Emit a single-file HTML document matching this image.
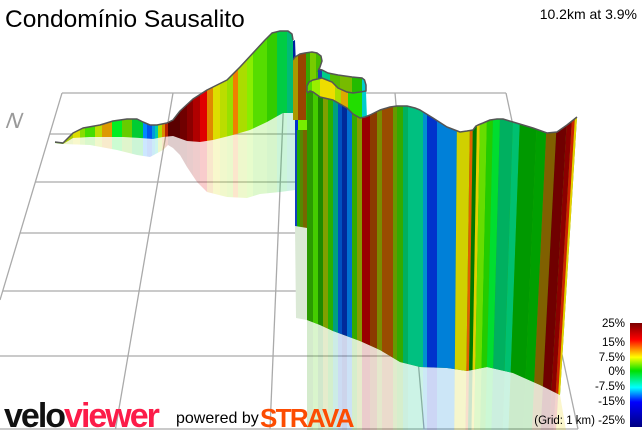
<!DOCTYPE html>
<html><head><meta charset="utf-8"><style>
html,body{margin:0;padding:0;background:#fff;}
svg{display:block;font-family:"Liberation Sans",Arial,sans-serif;}
</style></head><body>
<svg width="642" height="430" viewBox="0 0 642 430" xmlns="http://www.w3.org/2000/svg">
<defs>
<g id="sL">
<rect x="55" y="25" width="8" height="175" fill="#55aa00"/>
<rect x="63" y="25" width="10" height="175" fill="#aacc00"/>
<rect x="73" y="25" width="7" height="175" fill="#dddd00"/>
<rect x="80" y="25" width="5" height="175" fill="#88dd00"/>
<rect x="85" y="25" width="10" height="175" fill="#44dd00"/>
<rect x="95" y="25" width="7" height="175" fill="#bbdd00"/>
<rect x="102" y="25" width="10" height="175" fill="#dd9900"/>
<rect x="112" y="25" width="10" height="175" fill="#00ee22"/>
<rect x="122" y="25" width="10" height="175" fill="#66cc00"/>
<rect x="132" y="25" width="11" height="175" fill="#00cc33"/>
<rect x="143" y="25" width="4" height="175" fill="#0088ff"/>
<rect x="147" y="25" width="5" height="175" fill="#0055ee"/>
<rect x="152" y="25" width="3" height="175" fill="#0099dd"/>
<rect x="155" y="25" width="3" height="175" fill="#00ccaa"/>
<rect x="158" y="25" width="4" height="175" fill="#aadd00"/>
<rect x="162" y="25" width="3" height="175" fill="#dd8800"/>
<rect x="165" y="25" width="3" height="175" fill="#bb2200"/>
<rect x="168" y="25" width="12" height="175" fill="#5a0000"/>
<rect x="180" y="25" width="7" height="175" fill="#700000"/>
<rect x="187" y="25" width="6" height="175" fill="#8b0000"/>
<rect x="193" y="25" width="7" height="175" fill="#b00000"/>
<rect x="200" y="25" width="7" height="175" fill="#e00000"/>
<rect x="207" y="25" width="6" height="175" fill="#e08800"/>
<rect x="213" y="25" width="7" height="175" fill="#dddd00"/>
<rect x="220" y="25" width="7" height="175" fill="#bbdd00"/>
<rect x="227" y="25" width="6" height="175" fill="#99e000"/>
<rect x="233" y="25" width="5" height="175" fill="#f08000"/>
<rect x="238" y="25" width="9" height="175" fill="#aadd00"/>
<rect x="247" y="25" width="6" height="175" fill="#88ee00"/>
<rect x="253" y="25" width="14" height="175" fill="#55dd00"/>
<rect x="267" y="25" width="10" height="175" fill="#33cc00"/>
<rect x="277" y="25" width="10" height="175" fill="#00cc44"/>
<rect x="287" y="25" width="8" height="175" fill="#00bb77"/>
</g>
<g id="sF">
<rect x="305" y="60" width="290" height="370" fill="#33aa00"/>
<rect x="307" y="60" width="6" height="370" fill="#2a9a00"/>
<rect x="313" y="60" width="5" height="370" fill="#44cc00"/>
<rect x="318" y="60" width="5" height="370" fill="#1d8a00"/>
<rect x="323" y="60" width="5" height="370" fill="#7fa000"/>
<rect x="328" y="60" width="5" height="370" fill="#29b000"/>
<rect x="333" y="60" width="5" height="370" fill="#00a080"/>
<rect x="338" y="60" width="4" height="370" fill="#0050c0"/>
<rect x="342" y="60" width="5" height="370" fill="#002a9a"/>
<rect x="347" y="60" width="5" height="370" fill="#0070d0"/>
<rect x="352" y="60" width="5" height="370" fill="#33aa00"/>
<rect x="357" y="60" width="5" height="370" fill="#889900"/>
<rect x="362" y="60" width="8" height="370" fill="#990000"/>
<rect x="370" y="60" width="7" height="370" fill="#8b3a00"/>
<rect x="377" y="60" width="5" height="370" fill="#7a8a00"/>
<rect x="382" y="60" width="11" height="370" fill="#994c00"/>
<rect x="393" y="60" width="4" height="370" fill="#669900"/>
<rect x="397" y="60" width="6" height="370" fill="#33aa00"/>
<rect x="403" y="60" width="5" height="370" fill="#00b060"/>
<rect x="408" y="60" width="15" height="370" fill="#00c080"/>
<rect x="423" y="60" width="4" height="370" fill="#0090d0"/>
<rect x="427" y="60" width="10" height="370" fill="#0033cc"/>
<polygon points="437,60 457.5,60 454.3,430 437,430" fill="#0080d8"/>
<polygon points="457.5,60 470.8,60 465.5,430 454.3,430" fill="#d0d000"/>
<polygon points="470.8,60 473.9,60 468.1,430 465.5,430" fill="#e06000"/>
<polygon points="473.9,60 478,60 471.5,430 468.1,430" fill="#007700"/>
<polygon points="478,60 481.1,60 474.1,430 471.5,430" fill="#e0d000"/>
<polygon points="481.1,60 488.2,60 480.2,430 474.1,430" fill="#66dd00"/>
<polygon points="488.2,60 494.4,60 485.3,430 480.2,430" fill="#22cc00"/>
<polygon points="494.4,60 501.6,60 491.4,430 485.3,430" fill="#00dd30"/>
<polygon points="501.6,60 514.9,60 502.6,430 491.4,430" fill="#00b060"/>
<polygon points="514.9,60 522.1,60 508.6,430 502.6,430" fill="#00c070"/>
<polygon points="522.1,60 539.5,60 523.3,430 508.6,430" fill="#009900"/>
<polygon points="539.5,60 549.7,60 531.9,430 523.3,430" fill="#00a000"/>
<polygon points="549.7,60 560,60 540.6,430 531.9,430" fill="#806000"/>
<polygon points="560,60 570.2,60 549.2,430 540.6,430" fill="#700000"/>
<polygon points="570.2,60 575.4,60 553.5,430 549.2,430" fill="#8b0000"/>
<polygon points="575.4,60 578.4,60 556.1,430 553.5,430" fill="#cc2200"/>
<polygon points="578.4,60 590,60 570,430 556.1,430" fill="#e8d000"/>
</g>
<clipPath id="cL"><polygon points="55,142 63,143 73,133 83,128 100,125 113,121 127,119 137,119 143,122 150,125 157,125 167,123 173,120 180,111 193,99 207,90 227,80 240,67 253,53 265,40 272,33 280,31 288,31 292,34 293,40 293,113 283,113 267,122 250,130 233,135 213,140 200,142 187,141 173,136 163,137 153,139 140,138 123,137 107,137 90,137 73,138 63,144 55,143"/></clipPath>
<clipPath id="cLr"><polygon points="55,143 63,143 73,138 90,137 107,137 123,137 140,138 153,139 163,137 173,136 187,141 200,142 213,140 233,135 250,130 267,122 283,113 295,113 295,190 280,192 260,194 247,198 227,197 207,192 197,182 187,167 180,155 173,148 168,145 163,150 150,157 137,155 117,150 90,145 63,144 55,143"/></clipPath>
<clipPath id="cF"><polygon points="307,93 310,91 313,92 320,97 333,100 340,104 347,108 353,114 360,118 365,117 370,115 380,110 390,107 397,106 407,106 415,108 420,110 433,118 447,127 460,132 467,131 473,130 476,126 478,125 483,123 490,120 497,119 503,119 513,122 523,125 533,128 547,133 557,132 567,125 577,117 560,395 540,385 513,373 487,367 467,371 447,368 420,367 400,362 380,350 360,341 333,331 320,325 307,320"/></clipPath>
<clipPath id="cFr"><polygon points="307,320 320,325 333,331 360,341 380,350 400,362 420,367 447,368 467,371 487,367 513,373 540,385 560,395 566,430 307,430"/></clipPath>
<clipPath id="cB"><polygon points="293,60 295,57 300,54 305,53 312,52 317,53 321,56 322,61 320,67 318,72 318,120 293,120"/></clipPath>
<clipPath id="cC"><polygon points="318,69 322,70 328,73 338,75 352,77 362,78 364.5,80 366,85 366,118 318,118"/></clipPath>
<clipPath id="cD"><polygon points="307,92 307,86 309,82 313,80 322,78 332,82 338,88 347,92 353,93 360,92 366,91 367,120 307,120"/></clipPath>
<clipPath id="cK"><polygon points="295,115 300,113 307,113 307,228 295,226"/></clipPath>
<linearGradient id="bar" x1="0" y1="0" x2="0" y2="1">
<stop offset="0" stop-color="#7a0000"/>
<stop offset="0.16" stop-color="#ff0000"/>
<stop offset="0.26" stop-color="#ff9900"/>
<stop offset="0.33" stop-color="#ffff00"/>
<stop offset="0.46" stop-color="#00e000"/>
<stop offset="0.62" stop-color="#00ffff"/>
<stop offset="0.76" stop-color="#0000ff"/>
<stop offset="1" stop-color="#000080"/>
</linearGradient>
</defs>

<g stroke="#aaaaaa" stroke-width="1.3" fill="none">
<line x1="62" y1="93" x2="506" y2="93"/>
<line x1="49.7" y1="134" x2="514.8" y2="134"/>
<line x1="35.3" y1="182" x2="525" y2="182"/>
<line x1="20" y1="233" x2="536" y2="233"/>
<line x1="2.6" y1="291" x2="548.4" y2="291"/>
<line x1="0" y1="356" x2="562.3" y2="356"/>
<line x1="0" y1="429" x2="578" y2="429"/>
<line x1="62" y1="93" x2="0" y2="300"/>
<line x1="173" y1="93" x2="115.5" y2="429"/>
<line x1="284" y1="93" x2="270" y2="429"/>
<line x1="395" y1="93" x2="424" y2="429"/>
<line x1="506" y1="93" x2="578" y2="429"/>
</g>

<text transform="translate(4,128) skewX(-20)" font-size="22" fill="#9a9a9a">N</text>

<g opacity="0.2">
<g clip-path="url(#cLr)"><use href="#sL"/></g>
<g clip-path="url(#cFr)"><use href="#sF"/></g>
</g>
<polygon points="295,226 307,228 307,320 296,318" fill="#dbe9d6"/>

<g clip-path="url(#cK)">
<rect x="295" y="110" width="2" height="120" fill="#1040c0"/>
<rect x="297" y="110" width="3" height="120" fill="#22aa00"/>
<rect x="300" y="110" width="3" height="120" fill="#558800"/>
<rect x="303" y="110" width="4" height="120" fill="#776600"/>
<rect x="298" y="110" width="9" height="20" fill="#77ee00"/>
<rect x="295" y="110" width="3" height="20" fill="#0030d0"/>
</g>

<polygon points="291,42 295,40 296,66 292,70" fill="#0020a0"/>

<g clip-path="url(#cB)">
<rect x="293" y="50" width="5" height="72" fill="#aa9900"/>
<rect x="298" y="50" width="8" height="72" fill="#994400"/>
<rect x="306" y="50" width="4" height="72" fill="#33aa00"/>
<rect x="310" y="50" width="6" height="72" fill="#77cc00"/>
<rect x="316" y="50" width="7" height="72" fill="#44bb00"/>
</g>
<path d="M293,60 L295,57 300,54 305,53 312,52 317,53 321,56 322,61 320,67 318,72" fill="none" stroke="#555" stroke-width="1.5"/>

<g clip-path="url(#cC)">
<rect x="318" y="65" width="4" height="55" fill="#1a40b0"/>
<rect x="322" y="65" width="8" height="55" fill="#00cc88"/>
<rect x="330" y="65" width="10" height="55" fill="#55bb00"/>
<rect x="340" y="65" width="12" height="55" fill="#77bb00"/>
<rect x="352" y="65" width="10" height="55" fill="#22bb00"/>
<rect x="362" y="65" width="5" height="55" fill="#00cccc"/>
</g>
<path d="M318,69 L322,70 328,73 338,75 352,77 362,78 364.5,80 366,85 366,91 364,93" fill="none" stroke="#555" stroke-width="1.5"/>

<g clip-path="url(#cD)">
<rect x="307" y="75" width="5" height="46" fill="#55dd00"/>
<rect x="312" y="75" width="8" height="46" fill="#99ee00"/>
<rect x="320" y="75" width="15" height="46" fill="#eedd00"/>
<rect x="335" y="75" width="6" height="46" fill="#aadd00"/>
<rect x="341" y="75" width="7" height="46" fill="#ddaa00"/>
<rect x="348" y="75" width="14" height="46" fill="#22dd00"/>
<rect x="362" y="75" width="6" height="46" fill="#00cccc"/>
</g>
<path d="M307,92 L307,86 309,82 313,80 322,78 332,82 338,88 347,92 353,93 360,92 366,91" fill="none" stroke="#555" stroke-width="1.5"/>

<g clip-path="url(#cL)"><use href="#sL"/></g>
<path d="M55,142 L63,143 73,133 83,128 100,125 113,121 127,119 137,119 143,122 150,125 157,125 167,123 173,120 180,111 193,99 207,90 227,80 240,67 253,53 265,40 272,33 280,31 288,31 292,34 293,40" fill="none" stroke="#555" stroke-width="1.5" stroke-linejoin="round"/>

<g clip-path="url(#cF)"><use href="#sF"/></g>
<path d="M307,93 L310,91 313,92 320,97 333,100 340,104 347,108 353,114 360,118 365,117 370,115 380,110 390,107 397,106 407,106 415,108 420,110 433,118 447,127 460,132 467,131 473,130 476,126 478,125 483,123 490,120 497,119 503,119 513,122 523,125 533,128 547,133 557,132 567,125 577,117" fill="none" stroke="#555" stroke-width="1.5" stroke-linejoin="round"/>

<text x="5" y="27" font-size="24.5" fill="#000">Condomínio Sausalito</text>
<text x="637" y="19" font-size="14" fill="#000" text-anchor="end">10.2km at 3.9%</text>

<rect x="630" y="323" width="12" height="104" fill="url(#bar)"/>
<g font-size="11.5" fill="#000" text-anchor="end">
<text x="625" y="327">25%</text>
<text x="625" y="346">15%</text>
<text x="625" y="361">7.5%</text>
<text x="625" y="375">0%</text>
<text x="625" y="390">-7.5%</text>
<text x="625" y="405">-15%</text>
<text x="625" y="424">(Grid: 1 km) -25%</text>
</g>

<text x="4" y="427" font-size="34" font-weight="bold" letter-spacing="-2"><tspan fill="#111">velo</tspan><tspan fill="#fc1c49">viewer</tspan></text>
<text x="176" y="423" font-size="16" fill="#000">powered by</text>
<text x="260" y="427" font-size="26" font-weight="bold" fill="#fc4c02" letter-spacing="-1.7">STRAVA</text>
</svg>
</body></html>
